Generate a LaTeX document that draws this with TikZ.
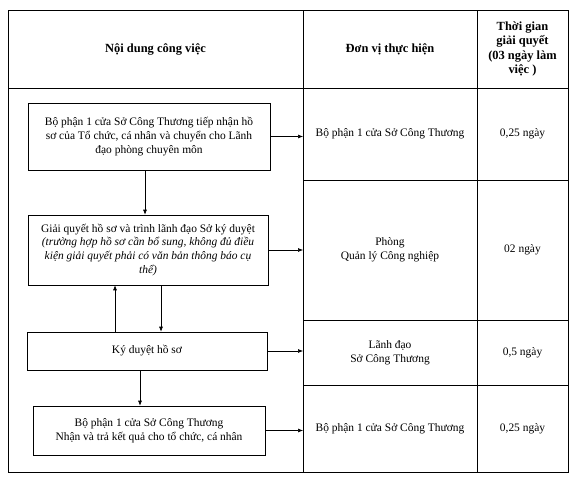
\documentclass[tikz,border=0pt]{standalone}
\usepackage{fontspec}
\setmainfont{Liberation Serif}
\usepackage{tikz}
\usetikzlibrary{arrows.meta, positioning}
\tikzstyle{cell}   = [rectangle, draw=black, line width=0.6pt,
    inner sep=0pt, outer sep=0pt, align=center]
\tikzstyle{block}  = [rectangle, draw=black, line width=0.6pt,
    inner sep=2pt, align=center]
\tikzstyle{head}   = [cell, font=\fontsize{12.5}{14.5}\selectfont\bfseries]
\tikzstyle{arrow}  = [-{Latex[length=5pt,width=4pt]}, line width=0.6pt]

\begin{document}
\begin{tikzpicture}[x=1bp, y=-1bp,
    every node/.style={font=\fontsize{11.5}{14}\selectfont}]
  \useasboundingbox (0,0) rectangle (576,480);

  % Header row
  \node[head, minimum width=295bp, minimum height=78bp] (hdnd) at (155.5,49) {Nội dung công việc};
  \node[head, minimum width=174bp, minimum height=78bp] (hddv) at (390,49) {Đơn vị thực hiện};
  \node[head, minimum width=91bp, minimum height=78bp]  (hdtg) at (522.5,49) {Thời gian\\giải quyết\\(03 ngày làm\\việc )};

  % Body
  \node[cell, minimum width=295bp, minimum height=384bp] (body) at (155.5,280) {};
  \node[cell, minimum width=174bp, minimum height=92bp]  (dv1) at (390,134) {Bộ phận 1 cửa Sở Công Thương};
  \node[cell, minimum width=174bp, minimum height=140bp] (dv2) at (390,250) {Phòng\\Quản lý Công nghiệp};
  \node[cell, minimum width=174bp, minimum height=65bp]  (dv3) at (390,352.5) {Lãnh đạo\\Sở Công Thương};
  \node[cell, minimum width=174bp, minimum height=87bp]  (dv4) at (390,428.5) {Bộ phận 1 cửa Sở Công Thương};
  \node[cell, minimum width=91bp, minimum height=92bp]   (tg1) at (522.5,134) {0,25 ngày};
  \node[cell, minimum width=91bp, minimum height=140bp]  (tg2) at (522.5,250) {02 ngày};
  \node[cell, minimum width=91bp, minimum height=65bp]   (tg3) at (522.5,352.5) {0,5 ngày};
  \node[cell, minimum width=91bp, minimum height=87bp]   (tg4) at (522.5,428.5) {0,25 ngày};

  % Steps
  \node[block, minimum width=242bp, minimum height=67bp] (tiepnhan) at (149,136.5)
    {Bộ phận 1 cửa Sở Công Thương tiếp nhận hồ\\sơ của Tổ chức, cá nhân và chuyển cho Lãnh\\đạo phòng chuyên môn};
  \node[block, minimum width=240bp, minimum height=70bp] (giaiquyet) at (148,250)
    {Giải quyết hồ sơ và trình lãnh đạo Sở ký duyệt\\\itshape(trường hợp hồ sơ cần bổ sung, không đủ điều\\\itshape kiện giải quyết phải có văn bản thông báo cụ\\\itshape thể)};
  \node[block, minimum width=240bp, minimum height=38bp] (kyduyet) at (147,351) {Ký duyệt hồ sơ};
  \node[block, minimum width=232bp, minimum height=49bp] (tra) at (149,430.5)
    {Bộ phận 1 cửa Sở Công Thương\\Nhận và trả kết quả cho tổ chức, cá nhân};

  \draw[arrow] (tiepnhan.east) -- (tiepnhan.east -| dv1.west);
  \draw[arrow] (giaiquyet.east) -- (giaiquyet.east -| dv2.west);
  \draw[arrow] (kyduyet.east) -- (kyduyet.east -| dv3.west);
  \draw[arrow] (tra.east) -- (tra.east -| dv4.west);
  \draw[arrow] ([xshift=-4bp]tiepnhan.south) -- ([xshift=-4bp]tiepnhan.south |- giaiquyet.north);
  \draw[arrow] ([xshift=-32bp]kyduyet.north) -- ([xshift=-32bp]kyduyet.north |- giaiquyet.south);
  \draw[arrow] ([xshift=13bp]giaiquyet.south) -- ([xshift=13bp]giaiquyet.south |- kyduyet.north);
  \draw[arrow] ([xshift=-7bp]kyduyet.south) -- ([xshift=-7bp]kyduyet.south |- tra.north);
\end{tikzpicture}
\end{document}
